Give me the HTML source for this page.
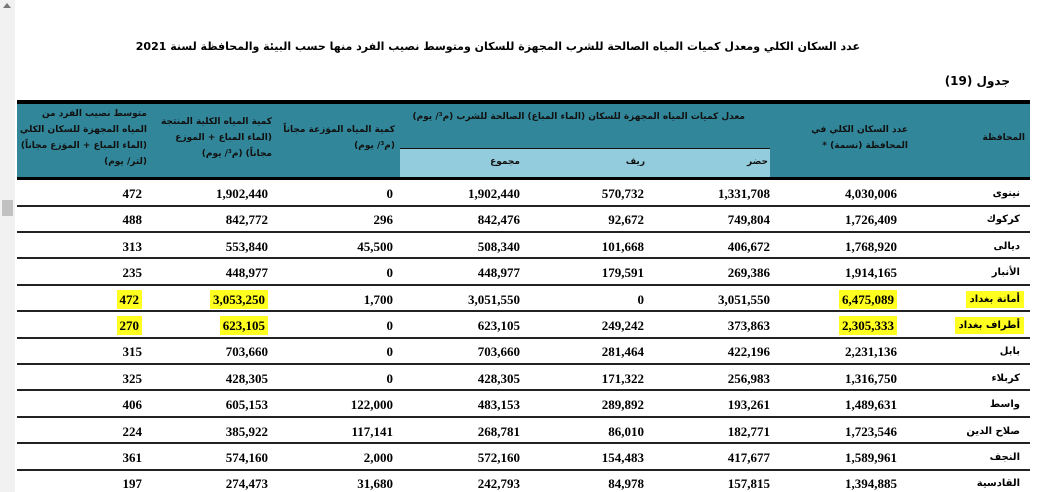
<!DOCTYPE html>
<html><head><meta charset="utf-8"><style>
body{margin:0;width:1063px;height:492px;background:#fff;position:relative;overflow:hidden;font-family:"Liberation Serif",serif}
.a{position:absolute}
.ar{font-family:"DejaVu Sans","Liberation Sans",sans-serif;font-weight:bold;direction:rtl}
.n{position:absolute;font-weight:bold;font-size:13px;text-align:right;width:120px}
.h{position:absolute;font-family:"DejaVu Sans",sans-serif;font-size:9px;font-weight:bold;color:#111;direction:rtl;line-height:16px}
.line{position:absolute;left:17px;width:1013px;height:2px;background:#222}
.y{background:#ffff20}
</style></head><body>
<div class="a" style="left:0;top:0;width:15px;height:492px;background:#f1f1f1"></div>
<div class="a" style="left:3px;top:3px;width:0;height:0;border-left:4px solid transparent;border-right:4px solid transparent;border-bottom:5px solid #777"></div>
<div class="a" style="left:2px;top:200px;width:11px;height:16px;background:#c1c1c1"></div>

<div class="a ar" style="left:185px;width:675px;top:40px;font-size:11px;text-align:center;white-space:nowrap;letter-spacing:-0.3px">عدد السكان الكلي ومعدل كميات المياه الصالحة للشرب المجهزة للسكان ومتوسط نصيب الفرد منها حسب البيئة والمحافظة لسنة 2021</div>
<div class="a ar" style="left:900px;width:110px;top:74px;font-size:12px;text-align:right">جدول (19)</div>

<div class="a" style="left:17px;top:100px;width:1013px;height:4px;background:#000"></div>
<div class="a" style="left:17px;top:104px;width:1013px;height:73px;background:#31869a"></div>
<div class="a" style="left:400px;top:148px;width:370px;height:29px;background:#93cddd;border-top:1.5px solid #111"></div>
<div class="a" style="left:17px;top:177px;width:1013px;height:3px;background:#000"></div>

<div class="h" style="left:14px;width:133px;top:106px;text-align:right">متوسط نصيب الفرد من المياه المجهزة للسكان الكلي (الماء المباع + الموَزع مجاناً) (لتر/ يوم)</div>
<div class="h" style="left:150px;width:122px;top:114px;text-align:right">كمية المياه الكلية المنتجة (الماء المباع + الموزع مجاناً) (م³/ يوم)</div>
<div class="h" style="left:280px;width:115px;top:122px;text-align:right">كمية المياه الموَزعة مجاناً (م³/ يوم)</div>
<div class="h" style="left:400px;width:345px;top:109px;text-align:right;white-space:nowrap;letter-spacing:-0.3px">معدل كميات المياه المجهزة للسكان (الماء المباع) الصالحة للشرب (م³/ يوم)</div>
<div class="h" style="left:420px;width:100px;top:154px;text-align:right">مجموع</div>
<div class="h" style="left:540px;width:105px;top:154px;text-align:right">ريف</div>
<div class="h" style="left:660px;width:108px;top:154px;text-align:right">حضر</div>
<div class="h" style="left:790px;width:118px;top:122px;text-align:right">عدد السكان الكلي في المحافظة (نسمة) *</div>
<div class="h" style="left:940px;width:85px;top:130px;text-align:right">المحافظة</div>

<div id="rows"></div>
<script>
var d=[["نينوى","4,030,006","1,331,708","570,732","1,902,440","0","1,902,440","472"],
["كركوك","1,726,409","749,804","92,672","842,476","296","842,772","488"],
["ديالى","1,768,920","406,672","101,668","508,340","45,500","553,840","313"],
["الأنبار","1,914,165","269,386","179,591","448,977","0","448,977","235"],
["أمانة بغداد","6,475,089","3,051,550","0","3,051,550","1,700","3,053,250","472"],
["أطراف بغداد","2,305,333","373,863","249,242","623,105","0","623,105","270"],
["بابل","2,231,136","422,196","281,464","703,660","0","703,660","315"],
["كربلاء","1,316,750","256,983","171,322","428,305","0","428,305","325"],
["واسط","1,489,631","193,261","289,892","483,153","122,000","605,153","406"],
["صلاح الدين","1,723,546","182,771","86,010","268,781","117,141","385,922","224"],
["النجف","1,589,961","417,677","154,483","572,160","2,000","574,160","361"],
["القادسية","1,394,885","157,815","84,978","242,793","31,680","274,473","197"]];
var R=[897,770,644,520,393,268,142];
var h='';
for(var i=0;i<d.length;i++){var t=180+i*26.4;var cy=t+6;
 var hl=(i==4||i==5);
 h+='<div class="a ar'+(hl?' y':'')+'" style="right:'+(1063-1024)+'px;top:'+(cy-1)+'px;font-size:10px;padding:3px 4px">'+d[i][0]+'</div>';
 for(var j=1;j<8;j++){var y=hl&&(j==1||j==6||j==7);
  h+='<div class="n" style="left:'+(R[j-1]-120)+'px;top:'+cy+'px"><span'+(y?' class="y" style="padding:2px 3px"':'')+'>'+d[i][j]+'</span></div>';}
 if(i<11)h+='<div class="line" style="top:'+(t+24.5)+'px"></div>';
}
document.getElementById('rows').innerHTML=h;
</script>
</body></html>
